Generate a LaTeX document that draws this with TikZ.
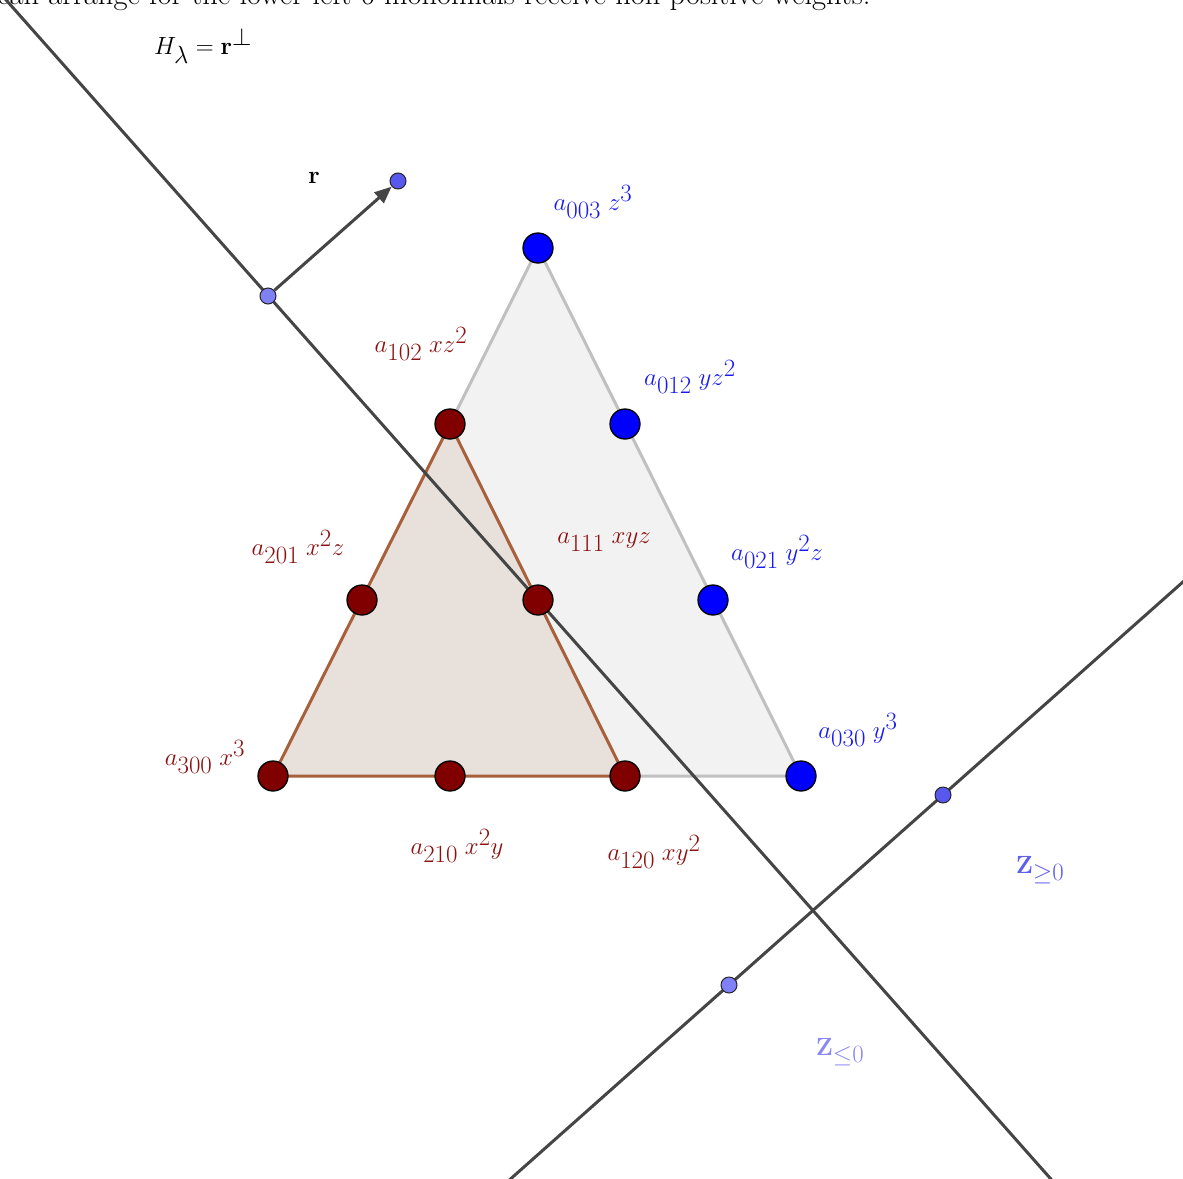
\documentclass[tikz,border=0pt]{standalone}
\usetikzlibrary{arrows.meta}
\definecolor{bigfill}{HTML}{F2F2F2}
\definecolor{bigedge}{HTML}{C0C0C0}
\definecolor{smallfill}{HTML}{E8E0DB}
\definecolor{smalledge}{HTML}{A8603A}
\definecolor{maroonc}{HTML}{800000}
\definecolor{labred}{HTML}{8B1010}
\definecolor{bluec}{HTML}{0000FF}
\definecolor{labblue}{HTML}{1A1AF0}
\definecolor{linec}{HTML}{454545}
\definecolor{ptlight}{HTML}{8080F8}
\definecolor{ptdark}{HTML}{5858EE}
\definecolor{zgeq}{HTML}{5F5FEE}
\definecolor{zleq}{HTML}{8A8AF2}
\begin{document}
\begin{tikzpicture}[x=1pt,y=-1pt,
  bigdot/.style={circle,draw=black,line width=1.3pt,minimum size=30pt,inner sep=0pt},
  bluedot/.style={bigdot,fill=bluec},
  reddot/.style={bigdot,fill=maroonc},
  smalldot/.style={circle,draw=black!85,line width=1pt,minimum size=16pt,inner sep=0pt},
  gline/.style={draw=linec,line width=3pt},
  lab/.style={font=\fontsize{33}{38}\selectfont,inner sep=0pt},
  bluelab/.style={lab,text=labblue},
  redlab/.style={lab,text=labred},
  ]
\useasboundingbox (0,0) rectangle (1183,1178);
\clip (0,0) rectangle (1183,1178);

% caption line (cut at top)
\node[anchor=base west,font=\fontsize{30.5}{36}\selectfont,inner sep=0pt] (cap) at (-3,4)
  {can arrange for the lower-left 6 monomials receive non-positive weights.};

% triangles
\coordinate (B1) at (273,776);
\coordinate (B2) at (801,776);
\coordinate (B3) at (538,248);
\coordinate (S2) at (625,776);
\coordinate (S3) at (450,424);
\fill[bigfill] (B1) -- (B2) -- (B3) -- cycle;
\draw[bigedge,line width=3pt,line join=round] (S2) -- (B2) -- (B3) -- (S3);
\filldraw[fill=smallfill,draw=smalledge,line width=3pt,line join=round] (B1) -- (S2) -- (S3) -- cycle;

% lines
\coordinate (H1) at (-10,-18.2);
\coordinate (H2) at (1060,1189.3);
\coordinate (L1) at (500,1188.3);
\coordinate (L2) at (1195,571.2);
\draw[gline] (H1) -- (H2);
\draw[gline] (L1) -- (L2);

% small points
\node[smalldot,fill=ptlight] (P) at (268,296) {};
\node[smalldot,fill=ptdark] (R) at (398,181) {};
\node[smalldot,fill=ptlight] (Q1) at (729,985) {};
\node[smalldot,fill=ptdark] (Q2) at (943,795) {};
\draw[draw=linec,line width=3pt,-{Triangle[length=17pt,width=14pt]}] (P) -- (R);

% monomial dots
\node[bluedot] (a003) at (538,248) {};
\node[bluedot] (a012) at (625,424) {};
\node[bluedot] (a021) at (713,600) {};
\node[bluedot] (a030) at (801,776) {};
\node[reddot] (a102) at (450,424) {};
\node[reddot] (a201) at (362,600) {};
\node[reddot] (a111) at (538,600) {};
\node[reddot] (a300) at (273,776) {};
\node[reddot] (a210) at (450,776) {};
\node[reddot] (a120) at (625,776) {};

% labels
\node[lab] (Hl) at (203,46) {$H_\lambda=\mathbf{r}^\perp$};
\node[lab] (rl) at (314,178) {$\mathbf{r}$};
\node[bluelab] (l003) at (593,202) {$a_{003}\;z^3$};
\node[bluelab] (l012) at (690,377) {$a_{012}\;yz^2$};
\node[bluelab] (l021) at (777,552) {$a_{021}\;y^2z$};
\node[bluelab] (l030) at (858,730) {$a_{030}\;y^3$};
\node[redlab] (l102) at (421,344) {$a_{102}\;xz^2$};
\node[redlab] (l201) at (298,547) {$a_{201}\;x^2z$};
\node[redlab] (l111) at (604,542) {$a_{111}\;xyz$};
\node[redlab] (l300) at (205,757) {$a_{300}\;x^3$};
\node[redlab] (l210) at (457,846) {$a_{210}\;x^2y$};
\node[redlab] (l120) at (654,852) {$a_{120}\;xy^2$};
\node[lab,text=zgeq] (zg) at (1040,870) {$\mathbf{Z}_{\geq 0}$};
\node[lab,text=zleq] (zl) at (840,1052) {$\mathbf{Z}_{\leq 0}$};
\end{tikzpicture}
\end{document}
